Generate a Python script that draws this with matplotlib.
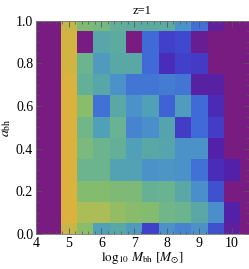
import numpy as np
import matplotlib
matplotlib.use("Agg")
import matplotlib.pyplot as plt
from matplotlib.colors import LinearSegmentedColormap
from matplotlib.ticker import MultipleLocator

# bin centres
log_mbh = np.arange(4.0, 10.51, 0.5)   # 14 columns
a_bh = np.round(np.arange(0.0, 1.01, 0.1), 1)  # 11 rows

# cell values (0..1), rows from a_bh = 0.0 up to 1.0
values = np.array([
    [0, 0, 0.96, 0.82, 0.50, 0.60, 0.47, 0.20, 0.42, 0.37, 0.42, 0.24, 0.06, 0],  # 0.0
    [0, 0, 1.00, 0.90, 0.90, 0.84, 0.81, 0.80, 0.72, 0.70, 0.60, 0.40, 0.09, 0],  # 0.1
    [0, 0, 1.00, 0.80, 0.80, 0.78, 0.77, 0.67, 0.69, 0.60, 0.40, 0.24, 0.00, 0],  # 0.2
    [0, 0, 1.00, 0.70, 0.70, 0.52, 0.52, 0.42, 0.44, 0.42, 0.32, 0.14, 0.09, 0],  # 0.3
    [0, 0, 1.00, 0.76, 0.70, 0.66, 0.50, 0.60, 0.57, 0.42, 0.42, 0.09, 0.00, 0],  # 0.4
    [0, 0, 1.00, 0.72, 0.50, 0.68, 0.37, 0.40, 0.55, 0.19, 0.30, 0.19, 0.00, 0],  # 0.5
    [0, 0, 1.00, 0.82, 0.32, 0.60, 0.42, 0.50, 0.28, 0.48, 0.30, 0.13, 0.00, 0],  # 0.6
    [0, 0, 1.00, 0.66, 0.58, 0.42, 0.33, 0.33, 0.35, 0.33, 0.08, 0.08, 0.00, 0],  # 0.7
    [0, 0, 0.98, 0.70, 0.47, 0.60, 0.60, 0.30, 0.14, 0.20, 0.18, 0.00, 0.00, 0],  # 0.8
    [0, 0, 0.98, 0.00, 0.58, 0.62, 0.00, 0.30, 0.20, 0.22, 0.04, 0.00, 0.00, 0],  # 0.9
    [0, 0, 0.95, 0.78, 0.74, 0.65, 0.62, 0.62, 0.62, 0.42, 0.32, 0.06, 0.00, 0],  # 1.0
])

cmap = LinearSegmentedColormap.from_list("bh", [
    (0.00, "#781c81"), (0.10, "#4f22ad"), (0.20, "#4040cb"),
    (0.30, "#3f6bd7"), (0.40, "#4a8ecc"), (0.50, "#50a0b8"),
    (0.60, "#59a8a6"), (0.70, "#6cb48f"), (0.80, "#84bc6f"),
    (0.90, "#aabd58"), (1.00, "#dcb23e"),
])

plt.rcParams["font.family"] = ["Liberation Serif", "DejaVu Serif"]
plt.rcParams["mathtext.fontset"] = "stix"

fig = plt.figure(figsize=(2.49, 2.69), dpi=100)
ax = fig.add_axes([0.1446, 0.130, 0.8534, 0.793])

dx, dy = 0.5, 0.1
xe = np.append(log_mbh - dx / 2, log_mbh[-1] + dx / 2)
ye = np.append(a_bh - dy / 2, a_bh[-1] + dy / 2)
ax.pcolormesh(xe, ye, values, cmap=cmap, vmin=0, vmax=1, shading="flat")

ax.set_xlim(4, 10.5)
ax.set_ylim(0, 1)
ax.xaxis.set_major_locator(MultipleLocator(1))
ax.xaxis.set_minor_locator(MultipleLocator(0.2))
ax.yaxis.set_major_locator(MultipleLocator(0.2))
ax.yaxis.set_minor_locator(MultipleLocator(0.05))
ax.tick_params(which="both", direction="in", top=True, right=True,
               color="#555555", labelsize=10, pad=2)
ax.tick_params(which="major", length=4, width=0.6)
ax.tick_params(which="minor", length=2, width=0.5)
for s in ax.spines.values():
    s.set_color("#777777")
    s.set_linewidth(0.6)

ax.set_xlabel(r"$\log_{10}\,M_{\rm bh}\ [M_{\odot}]$", fontsize=9.5, labelpad=0)
ax.set_ylabel(r"$a_{\rm bh}$", fontsize=10, labelpad=2)
ax.set_title("z=1", fontsize=9, pad=5)

fig.savefig("out.png", dpi=100)
